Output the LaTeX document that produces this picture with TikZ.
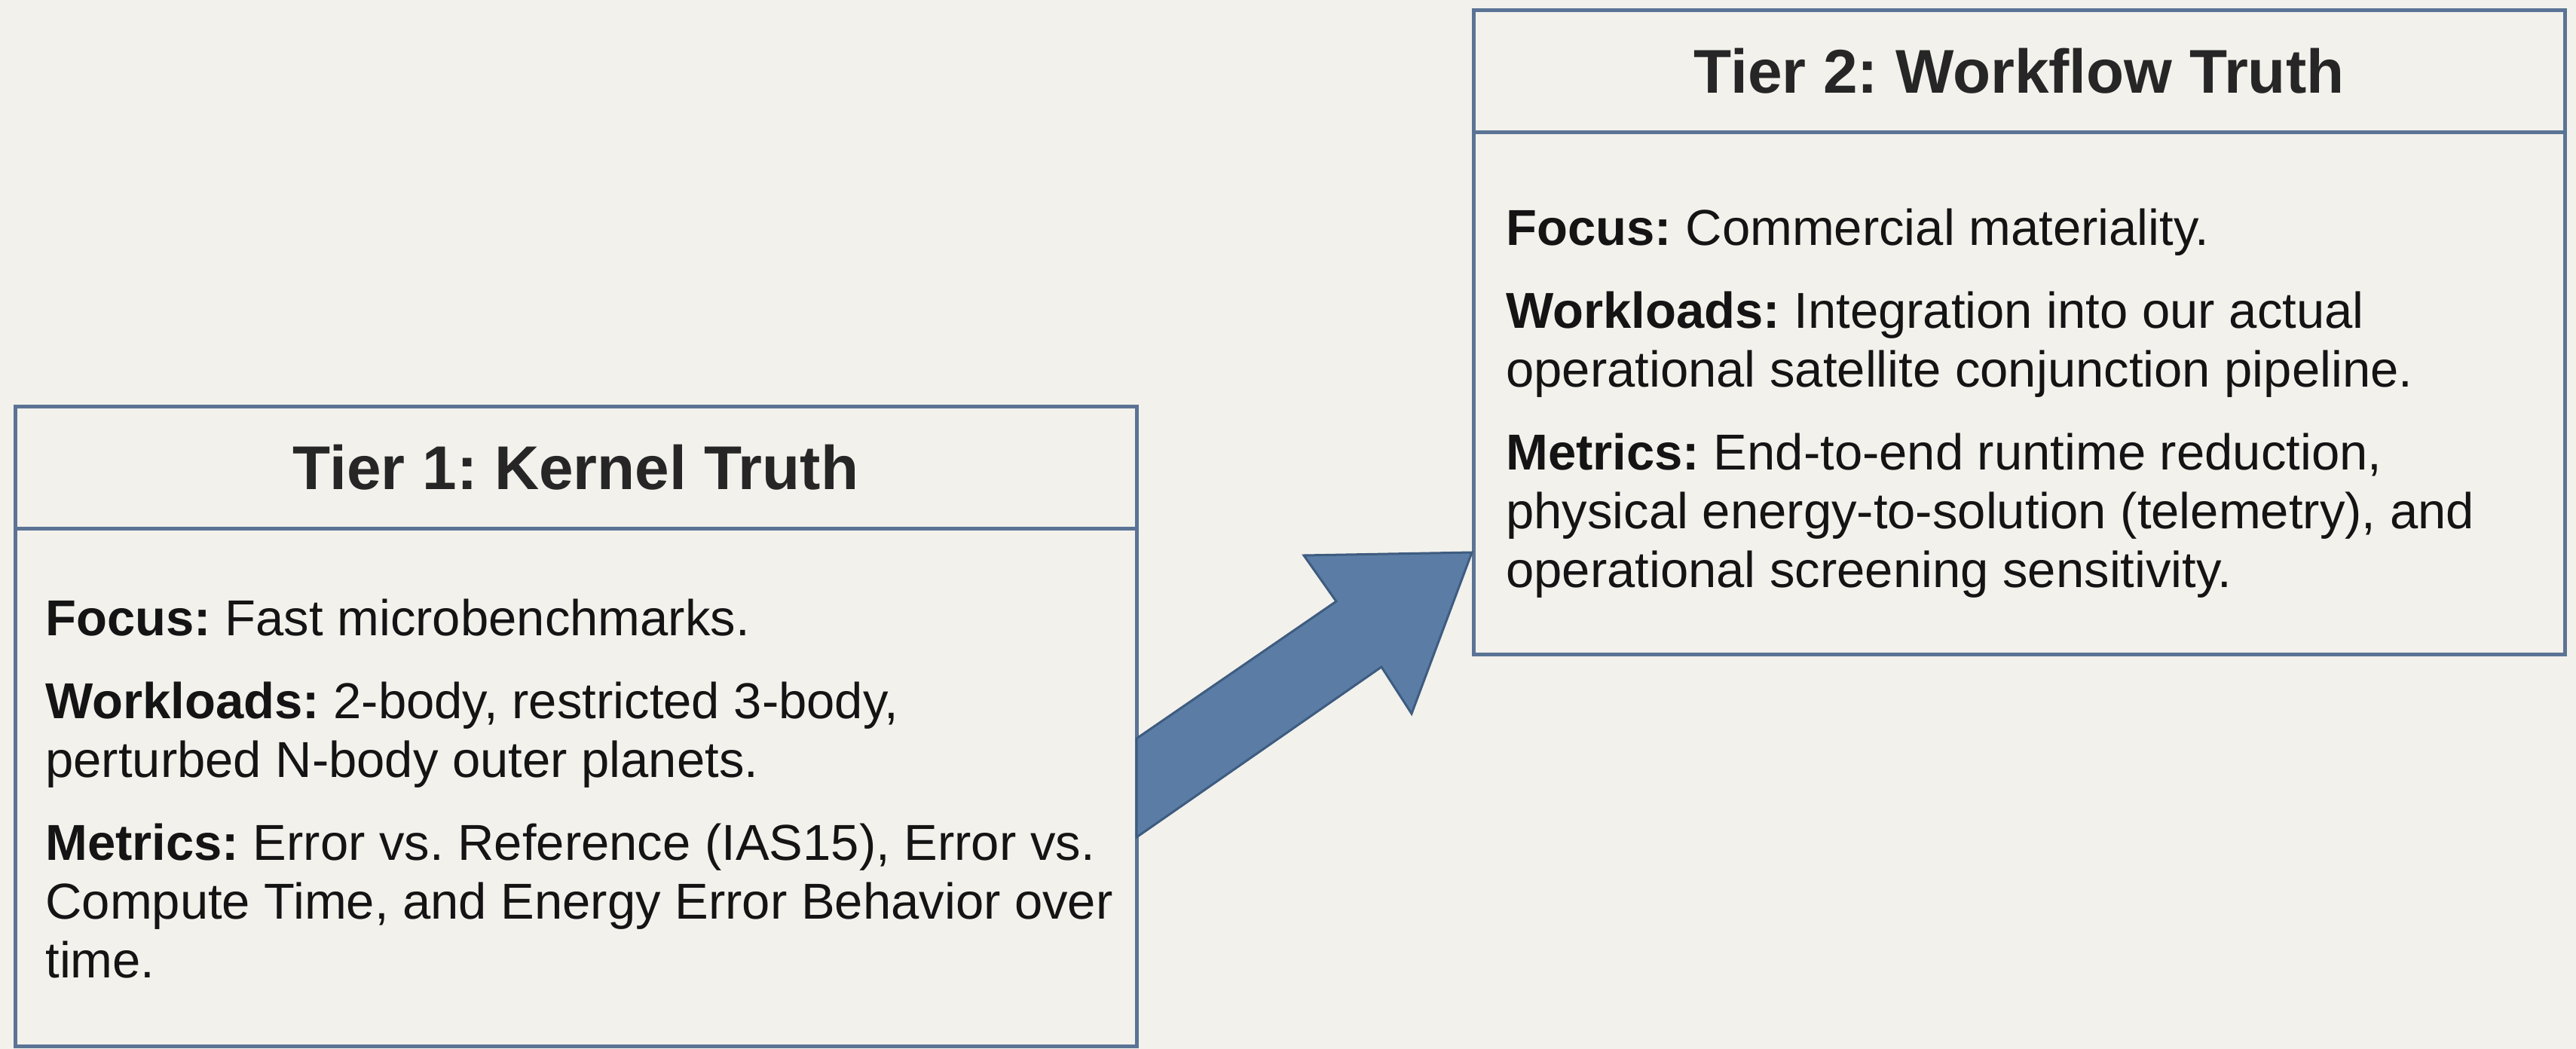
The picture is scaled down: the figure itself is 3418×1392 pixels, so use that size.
\documentclass[tikz,border=0pt]{standalone}
\usepackage{fontspec}
\setmainfont{Liberation Sans}
\usetikzlibrary{calc}
\frenchspacing

\definecolor{paper}{HTML}{F3F1EC}
\definecolor{frame}{HTML}{5B7495}
\definecolor{arrowfill}{HTML}{5B7DA5}
\definecolor{arrowedge}{HTML}{3E5C80}
\definecolor{ink}{HTML}{141414}
\definecolor{titleink}{HTML}{262626}

\begin{document}
\begin{tikzpicture}[x=0.5pt,y=-0.5pt,
  tierbox/.style={draw=frame, line width=2.5pt, fill=paper, inner sep=0pt,
    outer sep=0pt, anchor=north west, rectangle},
  divider/.style={draw=frame, line width=2.5pt},
  tiertitle/.style={font=\bfseries\fontsize{41}{48}\selectfont, text=titleink,
    inner sep=0pt},
  tierbody/.style={font=\fontsize{33.5}{39}\selectfont, text=ink, align=left,
    anchor=north west, inner sep=0pt},
  bigarrow/.style={fill=arrowfill, draw=arrowedge, line width=1.5pt,
    line join=miter}
]
% page
\fill[paper] (0,0) rectangle (3418,1392);
\useasboundingbox (0,0) rectangle (3418,1392);

% tier boxes
\node[tierbox, minimum width=744pt, minimum height=424.5pt] (t1) at (20,539) {};
\node[tierbox, minimum width=724pt, minimum height=427.5pt] (t2) at (1955,13) {};

% title dividers
\draw[divider] ($(t1.north west)+(0,162)$) -- ($(t1.north east)+(0,162)$);
\draw[divider] ($(t2.north west)+(0,162)$) -- ($(t2.north east)+(0,162)$);

% titles
\node[tiertitle] (t1title) at ($(t1.north)+(0,81)$) {Tier 1: Kernel Truth};
\node[tiertitle] (t2title) at ($(t2.north)+(0,81)$) {Tier 2: Workflow Truth};

% body texts
\node[tierbody] (t1body) at ($(t1.north west)+(40,256)$) {%
\textbf{Focus:} Fast microbenchmarks.\\[16pt]
\textbf{Workloads:} 2-body, restricted 3-body,\\
perturbed N-body outer planets.\\[16pt]
\textbf{Metrics:} Error vs. Reference (IAS15), Error vs.\\
Compute Time, and Energy Error Behavior over\\
time.};

\node[tierbody] (t2body) at ($(t2.north west)+(43,264)$) {%
\textbf{Focus:} Commercial materiality.\\[16pt]
\textbf{Workloads:} Integration into our actual\\
operational satellite conjunction pipeline.\\[16pt]
\textbf{Metrics:} End-to-end runtime reduction,\\
physical energy-to-solution (telemetry), and\\
operational screening sensitivity.};

% block arrow from tier 1 to tier 2
\coordinate (tailup) at ($(t1.north east)+(0,441)$);
\coordinate (taillow) at ($(t1.north east)+(0,572)$);
\coordinate (tip) at ($(t2.north west)+(-2,720)$);
\draw[bigarrow] (tailup)
  -- ($(tip)+(-180,65)$)
  -- ($(tip)+(-223,4)$)
  -- (tip)
  -- ($(tip)+(-80,214)$)
  -- ($(tip)+(-120,152)$)
  -- (taillow) -- cycle;
\end{tikzpicture}
\end{document}
